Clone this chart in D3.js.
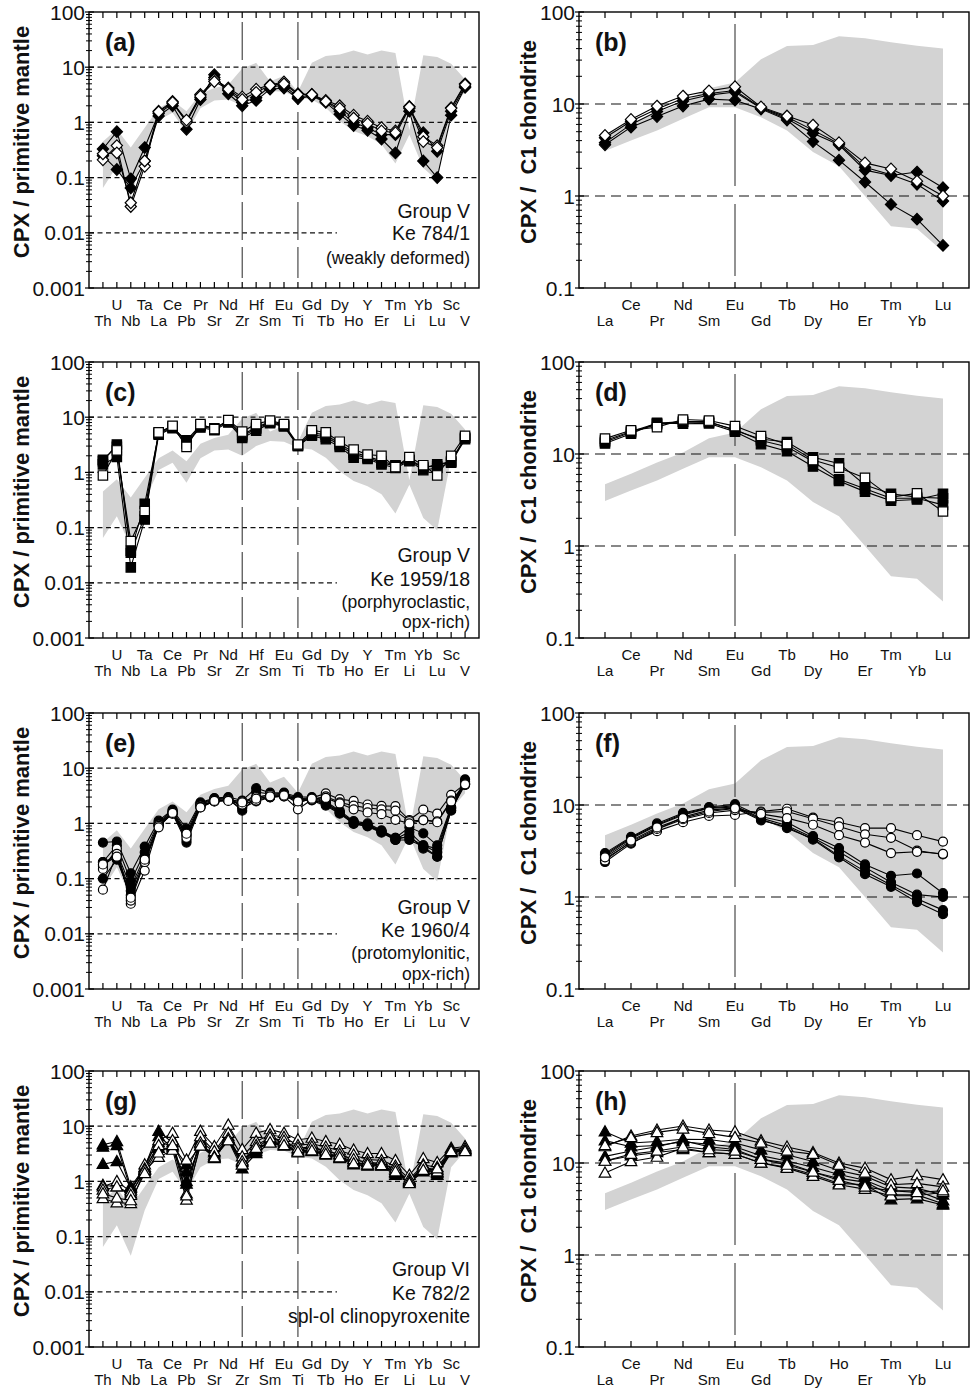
<!DOCTYPE html>
<html>
<head>
<meta charset="utf-8">
<script src="https://cdn.jsdelivr.net/npm/d3@7"></script>
<style>
  body { margin: 0; background: #fff; }
  svg { display: block; font-family: 'Liberation Sans', Arial, Helvetica, sans-serif; }
</style>
</head>
<body>
<div id="chart"></div>
<script>
// ********** CPX TRACE ELEMENT PANELS **********

// Element order along the x axes
const pmElements = ['Th','U','Nb','Ta','La','Ce','Pb','Pr','Sr','Nd','Zr','Hf','Sm','Eu','Ti',
                    'Gd','Tb','Dy','Ho','Y','Er','Tm','Li','Yb','Lu','Sc','V'];
const reeElements = ['La','Ce','Pr','Nd','Sm','Eu','Gd','Tb','Dy','Ho','Er','Tm','Yb','Lu'];

// Grey reference field (lower / upper bound) - same in every panel of a column
const pmFieldLow  = [0.065,0.16,0.045,0.3,1.1,1.5,0.65,1.8,2.5,2.6,2.0,3.0,3.7,3.6,2.8,2.6,1.85,1.05,0.7,0.56,0.4,0.18,0.6,0.15,0.09,1.8,3.5];
const pmFieldHigh = [0.45,0.75,0.35,0.8,1.8,2.5,1.6,3.3,4.2,4.8,9.5,12,5.5,7,3.6,12,16,17,20,17,20,18,0.72,16.4,15.3,11.5,6];
const reeFieldLow  = [3.08,4.0,5.15,6.9,9.2,9.2,7.2,5.15,3.0,2.1,1.0,0.47,0.44,0.25];
const reeFieldHigh = [4.7,6.1,8.1,10.4,14.8,17.1,30.6,42.6,43.8,54.6,52,47,43,40];

// (a) Ke 784/1 - primitive mantle normalised
const aFilled = [
  [0.25,0.14,0.065,0.2,1.3,2.0,0.75,2.6,7.3,3.3,2.0,2.5,4.0,4.2,2.7,3.0,2.3,1.4,0.88,0.72,0.5,0.28,1.6,0.2,0.1,1.35,4.3],
  [0.33,0.68,0.095,0.35,1.45,2.2,1.05,2.8,6.5,3.8,2.3,2.8,4.5,4.6,2.9,3.1,2.4,1.6,1.0,0.8,0.6,0.6,1.8,0.65,0.3,1.6,4.5]
];
const aOpen = [
  [0.21,0.38,0.03,0.16,1.6,2.4,1.0,3.2,6.0,4.2,2.9,4.0,4.8,5.4,3.3,3.2,2.5,2.0,1.35,1.05,0.8,0.7,1.95,0.55,0.38,1.85,5.0],
  [0.27,0.28,0.035,0.2,1.55,2.3,1.1,3.0,5.5,4.0,2.6,3.5,4.7,5.0,3.2,3.2,2.4,1.8,1.2,0.95,0.7,0.65,1.9,0.45,0.35,1.8,4.8]
];

// (b) Ke 784/1 - chondrite normalised
const bFilled = [
  [3.6,5.6,7.3,9.5,11.3,11.0,8.8,6.7,3.9,2.45,1.42,0.81,0.56,0.29],
  [3.8,6.0,8.3,10.8,12.5,13.5,9.0,6.9,4.8,3.6,1.91,1.67,1.82,1.23],
  [4.3,6.5,8.8,11.5,13.0,14.0,9.1,7.2,5.2,3.7,2.05,1.7,1.34,0.88]
];
const bOpen = [
  [4.55,6.8,9.5,12.2,13.9,15.4,9.3,7.4,5.9,3.8,2.29,1.97,1.45,1.0]
];

// (c) Ke 1959/18
const cFilled = [
  [1.4,1.9,0.019,0.14,4.8,6.3,3.3,6.5,5.8,8.0,4.2,5.7,7.8,6.8,3.0,4.6,4.0,2.9,1.85,1.75,1.4,1.2,1.6,1.1,1.2,1.5,4.0],
  [1.6,3.2,0.038,0.27,5.0,6.5,3.8,7.2,6.3,8.5,4.5,6.2,8.0,7.0,3.0,4.8,4.4,3.1,2.1,1.85,1.5,1.3,1.65,1.2,1.4,1.55,4.2],
  [1.7,2.9,0.035,0.16,5.2,6.8,3.5,7.0,6.0,8.7,4.8,6.5,8.3,7.2,3.1,5.2,4.8,3.3,2.3,1.95,1.6,1.35,1.7,1.25,1.3,1.6,4.3]
];
const cOpen = [
  [0.88,2.5,0.057,0.2,5.3,7.0,2.9,7.5,6.1,8.9,5.5,7.5,8.7,7.5,3.2,5.8,5.3,3.6,2.6,2.1,2.0,1.25,1.9,1.35,0.88,2.0,4.6]
];

// (d) Ke 1959/18
const dFilled = [
  [13.0,16.6,21.8,21.3,21.5,17.5,12.8,10.7,7.3,5.1,3.9,3.1,3.2,3.7],
  [13.5,17.2,21.0,22.3,22.0,18.5,14.0,12.0,8.3,5.3,4.2,3.3,3.3,2.8],
  [14.0,17.6,21.5,22.5,22.5,18.0,14.5,13.5,9.2,7.9,4.6,3.7,3.4,3.3]
];
const dOpen = [
  [14.7,18.1,19.6,23.7,23.1,20.1,15.7,12.8,8.6,7.1,5.5,3.4,3.73,2.37]
];

// (e) Ke 1960/4
const eFilled = [
  [0.45,0.47,0.125,0.38,1.12,1.77,0.8,2.4,2.87,3.0,2.6,4.35,3.6,3.6,3.0,3.0,2.5,1.7,1.1,1.0,0.75,0.55,0.85,0.66,0.4,2.0,6.3],
  [0.2,0.4,0.09,0.3,1.05,1.7,0.7,2.3,2.8,2.9,2.0,3.7,3.4,3.5,2.8,2.9,2.4,1.6,1.05,0.95,0.72,0.52,0.7,0.4,0.3,1.9,5.8],
  [0.17,0.3,0.07,0.25,1.0,1.6,0.62,2.2,2.7,2.8,1.7,3.0,3.2,3.3,2.7,2.7,2.2,1.55,1.0,0.9,0.7,0.5,0.6,0.35,0.25,1.7,5.4],
  [0.1,0.22,0.05,0.2,0.92,1.5,0.45,1.95,2.6,2.6,1.9,2.5,2.95,3.1,2.7,2.6,2.1,1.5,0.98,0.88,0.68,0.5,0.5,0.38,0.25,1.75,5.0],
  [0.2,0.25,0.06,0.22,0.95,1.55,0.5,2.1,2.5,2.7,2.1,2.8,3.0,3.2,2.8,2.75,2.3,1.6,1.05,0.92,0.72,0.55,0.55,0.4,0.35,1.9,5.3]
];
const eOpen = [
  [0.15,0.35,0.035,0.14,0.95,1.6,0.6,2.1,2.6,2.7,2.5,3.0,3.3,3.3,2.3,2.9,3.5,2.75,2.55,2.2,2.08,2.05,1.15,1.77,1.5,3.3,5.2],
  [0.063,0.28,0.04,0.2,0.9,1.5,0.55,2.0,2.5,2.6,2.2,2.6,3.0,3.1,1.8,2.7,3.1,2.4,2.1,1.9,1.8,1.7,1.1,1.15,1.09,2.6,5.0],
  [0.18,0.25,0.045,0.22,0.85,1.55,0.65,1.95,2.55,2.55,2.4,2.8,3.1,3.2,2.5,2.8,2.9,2.3,1.8,1.58,1.47,1.16,1.0,1.15,1.05,2.5,5.1]
];

// (f) Ke 1960/4
const fFilled = [
  [3.0,4.5,6.3,8.2,9.5,10.2,7.5,6.5,4.6,3.4,2.26,1.7,1.8,1.1],
  [2.9,4.4,6.1,8.0,9.3,9.8,7.2,6.0,4.4,3.1,2.1,1.45,1.06,1.0],
  [2.8,4.3,6.0,7.8,9.2,9.5,7.0,5.6,4.3,2.8,1.9,1.35,0.96,0.72],
  [2.4,3.8,5.4,7.4,8.8,9.3,6.8,5.8,4.2,2.7,1.77,1.29,0.88,0.65]
];
const fOpen = [
  [2.6,3.9,5.2,6.5,7.6,7.8,8.5,9.1,7.3,6.5,5.6,5.6,4.7,4.0],
  [2.5,4.0,5.5,7.0,8.2,8.8,8.3,8.5,7.1,5.85,4.8,4.4,3.2,2.9],
  [2.7,4.1,5.7,7.2,8.5,9.2,8.0,7.2,6.1,4.7,3.9,3.0,3.1,2.95]
];

// (g) Ke 782/2
const gFilled = [
  [4.6,5.3,0.8,1.8,8.1,5.0,1.5,5.5,3.3,6.5,2.2,4.0,6.0,5.2,3.8,4.0,3.6,3.0,2.5,2.2,2.1,1.6,1.0,1.8,1.6,3.5,4.1],
  [4.2,4.5,0.7,1.7,6.5,4.2,1.0,5.0,2.8,5.5,1.7,3.2,5.0,4.4,3.3,3.5,3.0,2.6,2.0,1.9,1.9,1.3,0.95,1.5,1.3,3.3,3.7],
  [2.05,2.3,0.75,1.6,5.0,4.5,2.0,4.5,3.0,6.0,2.0,3.5,5.5,4.8,3.5,3.8,3.3,2.8,2.3,2.0,2.0,1.45,1.05,1.7,1.45,3.6,3.9],
  [0.85,0.8,0.6,1.5,4.0,3.8,0.9,4.8,2.6,5.8,2.4,3.8,5.2,4.6,3.6,3.6,3.2,2.7,2.2,2.0,1.95,1.4,1.0,1.6,1.4,3.4,3.8]
];
const gOpen = [
  [0.8,1.0,0.65,2.0,5.5,7.5,2.45,8.1,4.3,10.5,3.8,7.5,8.7,7.5,5.7,6.1,5.3,4.7,3.7,3.2,3.2,2.4,1.3,2.6,2.2,4.0,4.3],
  [0.7,0.8,0.56,1.7,4.5,5.5,0.6,6.5,3.5,7.5,2.8,5.3,7.0,6.3,4.5,4.8,4.2,3.6,3.0,2.5,2.4,1.9,1.1,2.0,1.8,3.8,3.9],
  [0.49,0.41,0.4,1.6,2.75,3.7,0.46,5.0,2.8,6.0,2.3,4.5,6.2,5.4,4.0,4.2,3.6,3.1,2.5,2.2,2.1,1.7,1.0,1.9,1.5,3.6,3.6],
  [0.6,0.5,0.45,1.4,3.3,4.5,0.55,4.4,2.7,5.5,2.0,4.0,5.0,4.5,3.4,3.6,3.1,2.7,2.1,2.0,1.95,1.5,0.92,1.6,1.7,3.5,3.5]
];

// (h) Ke 782/2
const hFilled = [
  [21.9,16.5,17.1,18.1,18.0,16.5,13.9,12.3,10.4,8.3,7.2,5.5,5.3,4.5],
  [17.5,15.0,15.5,17.0,16.0,15.0,12.0,10.5,9.0,7.5,6.5,5.0,5.0,3.9],
  [11.8,13.5,15.0,17.5,15.0,14.0,11.0,10.0,8.0,6.8,6.2,4.5,4.5,3.6],
  [10.5,12.0,13.0,14.0,13.0,12.5,10.0,9.0,7.5,6.0,5.8,4.0,4.1,3.5]
];
const hOpen = [
  [15.1,19.7,22.8,25.2,22.8,21.9,17.5,14.9,13.0,10.0,8.8,6.6,7.3,6.6],
  [7.8,10.4,11.6,14.5,13.0,12.5,10.0,8.8,7.2,5.8,5.2,4.4,4.4,4.8],
  [15.5,19.0,21.5,23.5,21.0,19.0,16.5,13.5,12.5,9.5,7.8,5.8,6.0,5.5],
  [10.5,12.5,13.5,15.0,14.0,13.5,11.0,9.5,8.0,6.5,5.5,5.0,4.8,5.0]
];

// Sample annotations
const notesA = ['Group V', 'Ke 784/1', '(weakly deformed)'];
const notesC = ['Group V', 'Ke 1959/18', '(porphyroclastic,', 'opx-rich)'];
const notesE = ['Group V', 'Ke 1960/4', '(protomylonitic,', 'opx-rich)'];
const notesG = ['Group VI', 'Ke 782/2', 'spl-ol clinopyroxenite'];

// Layout
const width = 971, height = 1389;
const plotW = 390, plotH = 276;
const leftCol = 89, rightCol = 579;
const rowTops = [12, 362, 713, 1071];

const svg = d3.select('#chart')
  .append('svg')
  .attr('width', width)
  .attr('height', height);

// Marker shapes
const markerPath = (shape) => {
  if (shape === 'diamond') return 'M0,-5.8L5.6,0L0,5.8L-5.6,0Z';
  if (shape === 'square') return 'M-4.7,-4.7H4.7V4.7H-4.7Z';
  if (shape === 'triangle') return 'M0,-6L5.8,4.2L-5.8,4.2Z';
  return d3.symbol(d3.symbolCircle, Math.PI * 4.5 * 4.5)();
};

const renderPanel = (opts) => {
  const { left, top, type, label, filled, open, shape, notes, noteSpec } = opts;
  const isPM = type === 'pm';
  const elements = isPM ? pmElements : reeElements;
  const fieldLow = isPM ? pmFieldLow : reeFieldLow;
  const fieldHigh = isPM ? pmFieldHigh : reeFieldHigh;
  const bottom = top + plotH;
  const right = left + plotW;

  const x = d3.scaleLinear()
    .domain([-1, elements.length])
    .range([left, right]);
  const y = d3.scaleLog()
    .domain(isPM ? [0.001, 100] : [0.1, 100])
    .range([bottom, top]);

  const g = svg.append('g').attr('class', `panel panel-${label}`);

  // Grey field
  const area = d3.area()
    .x((d, i) => x(i))
    .y0(d => y(d.low))
    .y1(d => y(d.high));
  g.append('path')
    .datum(fieldLow.map((v, i) => ({ low: v, high: fieldHigh[i] })))
    .attr('d', area)
    .attr('fill', '#d3d3d3');

  // Horizontal dashed reference lines
  const refLines = isPM ? [10, 1, 0.1, 0.01] : [10, 1];
  g.selectAll('line.ref')
    .data(refLines)
    .enter()
    .append('line')
    .attr('class', 'ref')
    .attr('x1', left)
    .attr('x2', d => (isPM && d === 0.01) ? x(16.8) : right)
    .attr('y1', d => y(d))
    .attr('y2', d => y(d))
    .attr('stroke', '#111')
    .attr('stroke-width', 1.2)
    .attr('stroke-dasharray', isPM ? '5,3.5' : '10,6');

  // Vertical dashed lines (Zr, Ti / Eu)
  const vLines = isPM ? ['Zr', 'Ti'] : ['Eu'];
  g.selectAll('line.vline')
    .data(vLines)
    .enter()
    .append('line')
    .attr('class', 'vline')
    .attr('x1', d => x(elements.indexOf(d)))
    .attr('x2', d => x(elements.indexOf(d)))
    .attr('y1', top + (isPM ? 10 : 12))
    .attr('y2', bottom - 10)
    .attr('stroke', '#3a3a3a')
    .attr('stroke-width', 1.1)
    .attr('stroke-dasharray', isPM ? '38,7' : '72,18');

  // Series lines
  const allSeries = filled.map(v => ({ values: v, filled: true }))
    .concat(open.map(v => ({ values: v, filled: false })));
  const line = d3.line()
    .x((d, i) => x(i))
    .y(d => y(d));
  g.selectAll('path.series')
    .data(allSeries)
    .enter()
    .append('path')
    .attr('class', 'series')
    .attr('d', d => line(d.values))
    .attr('fill', 'none')
    .attr('stroke', '#000')
    .attr('stroke-width', 1.1);

  // Markers
  allSeries.forEach(s => {
    g.append('g')
      .selectAll('path')
      .data(s.values)
      .enter()
      .append('path')
      .attr('d', markerPath(shape))
      .attr('transform', (d, i) => `translate(${x(i)},${y(d)})`)
      .attr('fill', s.filled ? '#000' : '#fff')
      .attr('stroke', '#000')
      .attr('stroke-width', 1.2);
  });

  // Frame
  g.append('rect')
    .attr('x', left)
    .attr('y', top)
    .attr('width', plotW)
    .attr('height', plotH)
    .attr('fill', 'none')
    .attr('stroke', '#000')
    .attr('stroke-width', 1.4);

  // X ticks, top and bottom, pointing inwards
  [[bottom, -6], [top, 6]].forEach(([yy, len]) => {
    g.selectAll(null)
      .data(elements)
      .enter()
      .append('line')
      .attr('x1', (d, i) => x(i))
      .attr('x2', (d, i) => x(i))
      .attr('y1', yy)
      .attr('y2', yy + len)
      .attr('stroke', '#000')
      .attr('stroke-width', 1.2);
  });

  // X labels in two staggered rows
  g.selectAll('text.xlab')
    .data(elements)
    .enter()
    .append('text')
    .attr('class', 'xlab')
    .attr('x', (d, i) => x(i))
    .attr('y', (d, i) => bottom + (i % 2 === 1 ? 22 : 38))
    .attr('text-anchor', 'middle')
    .attr('font-size', 15)
    .attr('fill', '#111')
    .text(d => d);

  // Y ticks (log decades + minor)
  const [d0, d1] = y.domain();
  const majors = d3.range(Math.round(Math.log10(d0)), Math.round(Math.log10(d1)) + 1)
    .map(e => +Math.pow(10, e).toPrecision(3));
  const minors = [];
  majors.slice(0, -1).forEach(m => d3.range(2, 10).forEach(k => minors.push(m * k)));

  g.selectAll('line.ymajor')
    .data(majors)
    .enter()
    .append('line')
    .attr('x1', left - 4)
    .attr('x2', left + 5)
    .attr('y1', d => y(d))
    .attr('y2', d => y(d))
    .attr('stroke', '#000')
    .attr('stroke-width', 1.2);
  g.selectAll('line.yminor')
    .data(minors)
    .enter()
    .append('line')
    .attr('x1', left - 3)
    .attr('x2', left + 3)
    .attr('y1', d => y(d))
    .attr('y2', d => y(d))
    .attr('stroke', '#000')
    .attr('stroke-width', 1);
  g.selectAll('text.ylab')
    .data(majors)
    .enter()
    .append('text')
    .attr('x', left - 4)
    .attr('y', d => y(d))
    .attr('dy', '0.36em')
    .attr('text-anchor', 'end')
    .attr('font-size', 21)
    .attr('fill', '#111')
    .text(d => String(d));

  // Y axis title
  g.append('text')
    .attr('transform', `translate(${left + (isPM ? -60 : -43)}, ${top + 130}) rotate(-90)`)
    .attr('text-anchor', 'middle')
    .attr('font-size', 22)
    .attr('font-weight', 'bold')
    .attr('fill', '#111')
    .style('white-space', 'pre')
    .text(isPM ? 'CPX / primitive mantle' : 'CPX /  C1 chondrite');

  // Panel letter
  g.append('text')
    .attr('x', left + 16)
    .attr('y', top + 39)
    .attr('font-size', 25)
    .attr('font-weight', 'bold')
    .attr('fill', '#111')
    .text(`(${label})`);

  // Sample notes, right aligned, stacked from the bottom
  if (notes) {
    g.selectAll('text.note')
      .data(notes)
      .enter()
      .append('text')
      .attr('class', 'note')
      .attr('x', right - 9)
      .attr('y', (d, i) => bottom + noteSpec[i][1])
      .attr('text-anchor', 'end')
      .attr('font-size', (d, i) => noteSpec[i][0])
      .attr('fill', '#111')
      .text(d => d);
  }
};

renderPanel({ left: leftCol, top: rowTops[0], type: 'pm', label: 'a', filled: aFilled, open: aOpen, shape: 'diamond',
  notes: notesA, noteSpec: [[19.5, -70], [19.5, -48], [17.5, -24]] });
renderPanel({ left: rightCol, top: rowTops[0], type: 'ree', label: 'b', filled: bFilled, open: bOpen, shape: 'diamond' });
renderPanel({ left: leftCol, top: rowTops[1], type: 'pm', label: 'c', filled: cFilled, open: cOpen, shape: 'square',
  notes: notesC, noteSpec: [[19.5, -76], [19.5, -52], [17.5, -30], [17.5, -10]] });
renderPanel({ left: rightCol, top: rowTops[1], type: 'ree', label: 'd', filled: dFilled, open: dOpen, shape: 'square' });
renderPanel({ left: leftCol, top: rowTops[2], type: 'pm', label: 'e', filled: eFilled, open: eOpen, shape: 'circle',
  notes: notesE, noteSpec: [[19.5, -75], [19.5, -52], [17.5, -30], [17.5, -9]] });
renderPanel({ left: rightCol, top: rowTops[2], type: 'ree', label: 'f', filled: fFilled, open: fOpen, shape: 'circle' });
renderPanel({ left: leftCol, top: rowTops[3], type: 'pm', label: 'g', filled: gFilled, open: gOpen, shape: 'triangle',
  notes: notesG, noteSpec: [[19.5, -71], [19.5, -47], [19.5, -24]] });
renderPanel({ left: rightCol, top: rowTops[3], type: 'ree', label: 'h', filled: hFilled, open: hOpen, shape: 'triangle' });
</script>
</body>
</html>
